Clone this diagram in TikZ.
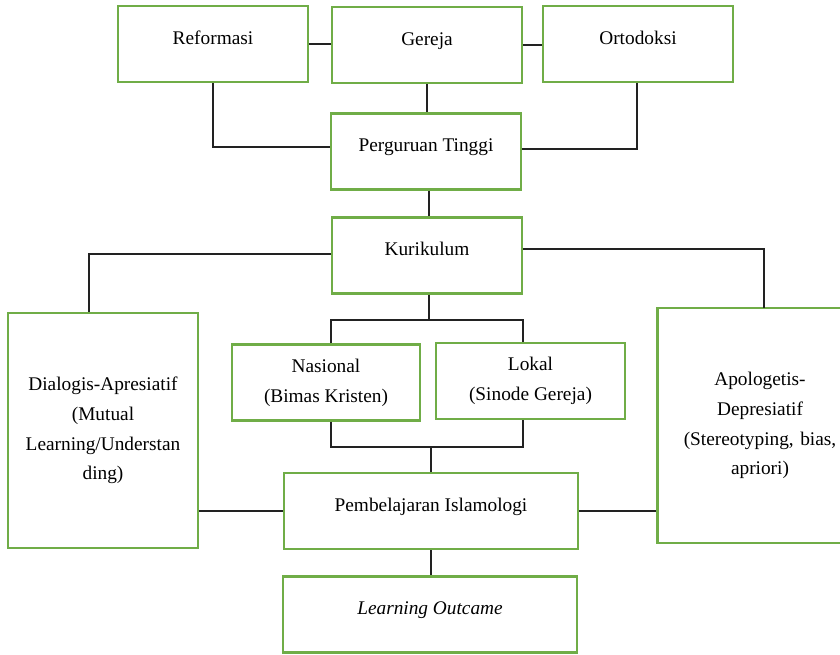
\documentclass[tikz,border=0pt]{standalone}
\usepackage{fontspec}
\setmainfont{Liberation Serif}
\usetikzlibrary{calc, positioning}
\definecolor{boxGreen}{HTML}{70AD47}
\definecolor{lineGray}{HTML}{222222}
\tikzset{
    greenBox/.style={rectangle, draw=boxGreen, line width=1.4pt, fill=white, align=center, inner sep=2pt,
        minimum width=3.8cm, minimum height=1.52cm, font=\fontsize{11}{16.9}\selectfont},
    oneLine/.style={greenBox, text height=2ex, text depth=2ex},
    tallBox/.style={greenBox, minimum height=4.7cm, text width=3.6cm},
    wideBox/.style={oneLine, minimum width=5.88cm},
    linkEdge/.style={draw=lineGray, line width=1.2pt},
}
\newcommand{\drawLink}[2]{
    \draw[linkEdge] (#1) -- (#2);
}

\begin{document}
\begin{tikzpicture}[x=0.02cm, y=-0.02cm]
        \useasboundingbox (0,0) rectangle (840,654);

        % top row
        \node[oneLine] (ref) at (213,44) {Reformasi};
        \node[oneLine] (ger) at (427,45) {Gereja};
        \node[oneLine] (ort) at (638,44) {Ortodoksi};
        \node[oneLine] (per) at (426,151.5) {Perguruan Tinggi};
        \node[oneLine] (kur) at (427,255.5) {Kurikulum};

        % middle
        \node[tallBox] (dia) at (103,430.5) {Dialogis-Apresiatif\\(Mutual\\Learning/Understan\\ding)};
        \node[tallBox, minimum width=4.1cm] (apo) at (760,425.5) {Apologetis-\\Depresiatif\\(Stereotyping, bias,\\apriori)};
        \node[greenBox, minimum width=3.76cm] (nas) at (326,382.5) {Nasional\\(Bimas Kristen)};
        \node[greenBox, minimum width=3.78cm] (lok) at (530.5,381) {Lokal\\(Sinode Gereja)};

        % bottom
        \node[wideBox] (pem) at (431,511) {Pembelajaran Islamologi};
        \node[wideBox] (out) at (430,614.5) {\itshape Learning Outcame};

        \coordinate (split) at (429,320);
        \coordinate (join) at (431,447);

        \drawLink{ref.east}{ger.west |- ref.east}
        \drawLink{ger.east}{ort.west |- ger.east}
        \drawLink{ger.south}{ger.south |- per.north}
        \draw[linkEdge] (ref.south) |- ([yshift=0.09cm]per.west);
        \draw[linkEdge] ([xshift=-0.02cm]ort.south) |- ([yshift=0.05cm]per.east);
        \drawLink{per.south -| split}{kur.north -| split}
        \draw[linkEdge] ([yshift=0.03cm]kur.west) -| ([xshift=-0.28cm]dia.north);
        \draw[linkEdge] ([yshift=0.13cm]kur.east) -| (764,308);
        \drawLink{kur.south -| split}{split}
        \draw[linkEdge] (nas.north -| kur.west) |- (split) -| (lok.north -| kur.east);
        \draw[linkEdge] (nas.south -| kur.west) |- (join) -| (lok.south -| kur.east);
        \drawLink{join}{pem.north -| join}
        \drawLink{dia.east |- pem.west}{pem.west}
        \drawLink{pem.east}{apo.west |- pem.east}
        \drawLink{pem.south -| join}{out.north -| join}

    \end{tikzpicture}
\end{document}
